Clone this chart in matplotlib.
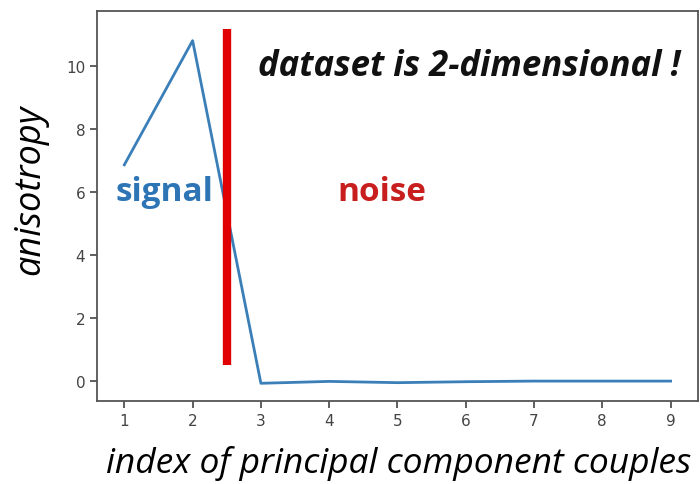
import matplotlib
matplotlib.use("Agg")
import matplotlib.pyplot as plt

# anisotropy of each principal component couple
couples = [1, 2, 3, 4, 5, 6, 7, 8, 9]
anisotropy = [6.87, 10.82, -0.08, -0.02, -0.06, -0.03, -0.01, -0.01, -0.01]

# signal / noise cut between couple 2 and 3
cut_x = 2.5
cut_span = [0.5, 11.2]

label_font = "Open Sans"

fig = plt.figure(figsize=(7, 4.85), dpi=100)
ax = fig.add_axes([0.1386, 0.1711, 0.8584, 0.8042])

ax.plot(couples, anisotropy, color="#3a7fb8", linewidth=2)
ax.plot([cut_x, cut_x], cut_span, color="#e00000", linewidth=6, solid_capstyle="butt")

ax.set_xticks(couples)
ax.set_yticks([0, 2, 4, 6, 8, 10])
ax.tick_params(labelsize=11, colors="#444444", length=5, width=1.2)
for side in ax.spines.values():
    side.set_color("#555555")
    side.set_linewidth(1.3)

fig.text(0.369, 0.843, "dataset is 2-dimensional !",
         fontsize=25, fontweight="bold", fontstyle="italic",
         family=label_font, color="#111111", va="baseline")
ax.text(0.03, 0.538, "signal", transform=ax.transAxes,
        fontsize=24, fontweight="bold", family=label_font, color="#2e75b6",
        ha="left", va="center")
ax.text(0.40, 0.538, "noise", transform=ax.transAxes,
        fontsize=24, fontweight="bold", family=label_font, color="#c81e1e",
        ha="left", va="center")

fig.text(0.569, 0.024, "index of principal component couples", fontsize=25.5,
         fontstyle="italic", family=label_font, ha="center", va="baseline")
fig.text(0.043, 0.608, "anisotropy", fontsize=26, fontstyle="italic",
         family=label_font, rotation=90, ha="center", va="center")

fig.savefig("out.png", dpi=100)
